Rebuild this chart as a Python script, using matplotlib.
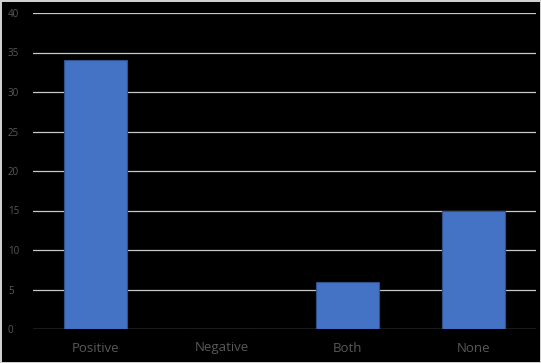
import matplotlib
matplotlib.use('Agg')
import matplotlib.pyplot as plt

# Chart data
categories = ['Positive', 'Negative', 'Both', 'None']
counts = [34, 0, 6, 15]
y_ticks = [0, 5, 10, 15, 20, 25, 30, 35, 40]

plt.rcParams['font.family'] = ['Open Sans', 'DejaVu Sans']

fig = plt.figure(figsize=(5.41, 3.63), dpi=100, facecolor='black',
                 edgecolor='#d0d0d0', linewidth=2)
ax = fig.add_axes([33 / 541, 34 / 363, 503 / 541, 316 / 363])
ax.set_facecolor('black')

x = range(len(categories))
ax.bar(x, counts, width=0.5, color='#4472C4', edgecolor='#2f528f',
       linewidth=0.8, zorder=3)

ax.set_xlim(-0.5, len(categories) - 0.5)
ax.set_ylim(0, 40)
ax.set_yticks(y_ticks)
ax.set_xticks(list(x))
ax.set_xticklabels(categories)
ax.yaxis.grid(True, color='#c8c8c8', linewidth=0.9, zorder=0)
ax.tick_params(axis='y', length=0, labelsize=7, labelcolor='#595959', pad=18)
ax.tick_params(axis='x', length=0, labelsize=9.5, labelcolor='#595959', pad=9)
for lbl in ax.get_yticklabels():
    lbl.set_horizontalalignment('left')
for s in ax.spines.values():
    s.set_visible(False)

fig.savefig('out.png', dpi=100, facecolor=fig.get_facecolor(),
            edgecolor=fig.get_edgecolor())
